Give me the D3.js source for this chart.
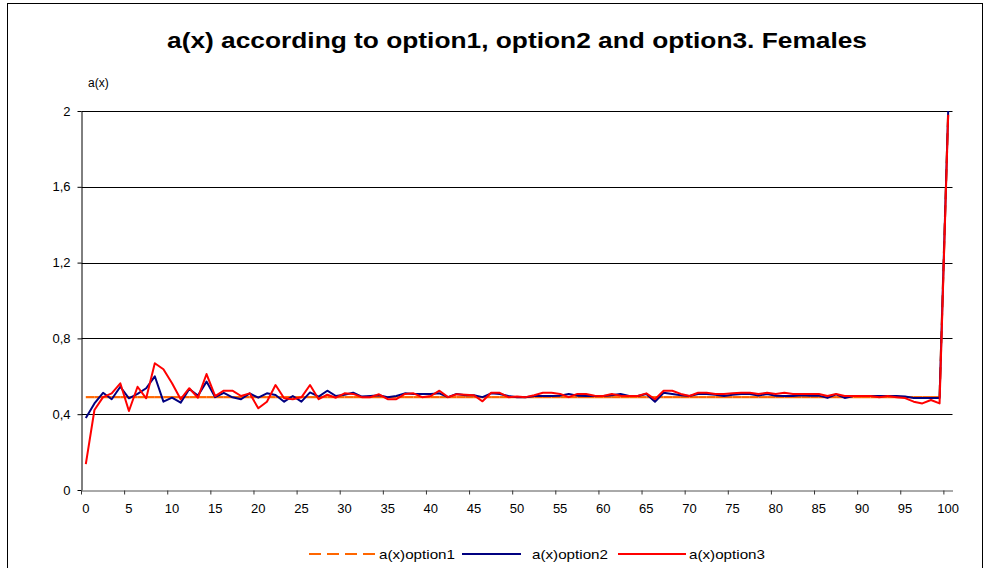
<!DOCTYPE html>
<html>
<head>
<meta charset="utf-8">
<script src="https://cdn.jsdelivr.net/npm/d3@7"></script>
<style>
  html, body { margin: 0; padding: 0; background: #fff; }
  svg { display: block; font-family: "Liberation Sans", Arial, Helvetica, sans-serif; }
</style>
</head>
<body>
<svg id="chart" width="990" height="568"></svg>
<script>
// Ages 0..100 on the category axis
const ages = d3.range(0, 101);

// Labelled ages on the x axis
const xTickAges = [0, 5, 10, 15, 20, 25, 30, 35, 40, 45, 50, 55, 60, 65, 70, 75, 80, 85, 90, 95, 100];

// y axis ticks and their labels (decimal comma)
const yTicks = [0, 0.4, 0.8, 1.2, 1.6, 2];
const yTickLabels = ["0", "0,4", "0,8", "1,2", "1,6", "2"];

// a(x), option 1
const option1 = [
  0.49, 0.49, 0.49, 0.49, 0.49, 0.49, 0.49, 0.49, 0.49, 0.49,
  0.49, 0.49, 0.49, 0.49, 0.49, 0.49, 0.49, 0.49, 0.49, 0.49,
  0.49, 0.49, 0.49, 0.49, 0.49, 0.49, 0.49, 0.49, 0.49, 0.49,
  0.49, 0.49, 0.49, 0.49, 0.49, 0.49, 0.49, 0.49, 0.49, 0.49,
  0.49, 0.49, 0.49, 0.49, 0.49, 0.49, 0.49, 0.49, 0.49, 0.49,
  0.49, 0.49, 0.49, 0.49, 0.49, 0.49, 0.49, 0.49, 0.49, 0.49,
  0.49, 0.49, 0.49, 0.49, 0.49, 0.49, 0.49, 0.49, 0.49, 0.49,
  0.49, 0.49, 0.49, 0.49, 0.49, 0.49, 0.49, 0.49, 0.49, 0.49,
  0.49, 0.49, 0.49, 0.49, 0.49, 0.49, 0.49, 0.49, 0.49, 0.49,
  0.49, 0.49, 0.49, 0.49, 0.49, 0.49, 0.49, 0.49, 0.49, 0.49,
  2.0
];

// a(x), option 2
const option2 = [
  0.380, 0.457, 0.513, 0.479, 0.545, 0.484, 0.507, 0.537, 0.600, 0.466,
  0.487, 0.461, 0.533, 0.498, 0.572, 0.490, 0.513, 0.489, 0.479, 0.510,
  0.487, 0.510, 0.501, 0.466, 0.496, 0.466, 0.515, 0.493, 0.524, 0.496,
  0.503, 0.513, 0.493, 0.496, 0.500, 0.490, 0.496, 0.510, 0.507, 0.507,
  0.507, 0.510, 0.490, 0.507, 0.500, 0.500, 0.490, 0.510, 0.507, 0.496,
  0.490, 0.490, 0.496, 0.496, 0.496, 0.498, 0.507, 0.498, 0.496, 0.496,
  0.496, 0.500, 0.507, 0.496, 0.496, 0.507, 0.466, 0.513, 0.507, 0.500,
  0.496, 0.507, 0.507, 0.503, 0.496, 0.503, 0.507, 0.507, 0.498, 0.507,
  0.497, 0.496, 0.496, 0.500, 0.497, 0.498, 0.486, 0.505, 0.486, 0.496,
  0.496, 0.496, 0.496, 0.496, 0.496, 0.493, 0.486, 0.486, 0.486, 0.486,
  2.0
];

// a(x), option 3
const option3 = [
  0.137, 0.422, 0.490, 0.510, 0.563, 0.417, 0.545, 0.484, 0.669, 0.637,
  0.563, 0.479, 0.537, 0.487, 0.612, 0.495, 0.524, 0.524, 0.496, 0.510,
  0.431, 0.466, 0.554, 0.484, 0.479, 0.489, 0.554, 0.479, 0.503, 0.487,
  0.510, 0.507, 0.490, 0.490, 0.505, 0.479, 0.479, 0.507, 0.510, 0.490,
  0.496, 0.524, 0.490, 0.505, 0.503, 0.500, 0.468, 0.513, 0.513, 0.490,
  0.493, 0.490, 0.500, 0.513, 0.513, 0.507, 0.490, 0.507, 0.507, 0.497,
  0.496, 0.507, 0.498, 0.496, 0.496, 0.510, 0.479, 0.524, 0.524, 0.507,
  0.496, 0.513, 0.513, 0.507, 0.507, 0.510, 0.513, 0.513, 0.507, 0.513,
  0.507, 0.513, 0.507, 0.507, 0.507, 0.507, 0.496, 0.507, 0.496, 0.496,
  0.496, 0.496, 0.490, 0.496, 0.490, 0.485, 0.466, 0.457, 0.475, 0.457,
  1.98
];

const seriesNames = ["a(x)option1", "a(x)option2", "a(x)option3"];
const seriesColors = ["#FF6600", "#000080", "#FF0000"];

const svg = d3.select("#chart");

// Outer frame
svg.append("rect")
  .attr("x", 7.5).attr("y", 3.5)
  .attr("width", 975).attr("height", 600)
  .attr("fill", "#fff").attr("stroke", "#000").attr("stroke-width", 1);

// Plot area
const plot = { left: 81.5, right: 952.5, top: 111, bottom: 490 };

const x = d3.scaleBand()
  .domain(ages)
  .range([plot.left, plot.right])
  .paddingInner(0).paddingOuter(0);
const bw = x.bandwidth();
const cx = a => x(a) + bw / 2;

const y = d3.scaleLinear()
  .domain([0, 2])
  .range([plot.bottom, plot.top]);

// Title
svg.append("text")
  .attr("x", (plot.left + plot.right) / 2)
  .attr("y", 48)
  .attr("text-anchor", "middle")
  .attr("font-weight", "bold")
  .attr("font-size", 22)
  .attr("textLength", 700)
  .attr("lengthAdjust", "spacingAndGlyphs")
  .text("a(x) according to option1, option2 and option3. Females");

// y axis caption
svg.append("text")
  .attr("x", 88).attr("y", 87)
  .attr("font-size", 12)
  .text("a(x)");

// Horizontal gridlines
svg.append("g")
  .selectAll("line")
  .data(yTicks.filter(d => d > 0))
  .join("line")
  .attr("x1", plot.left).attr("x2", plot.right)
  .attr("y1", d => Math.round(y(d)) + 0.5)
  .attr("y2", d => Math.round(y(d)) + 0.5)
  .attr("stroke", "#000").attr("stroke-width", 1);

// y axis
const yAxis = d3.axisLeft(y)
  .tickValues(yTicks)
  .tickFormat((d, i) => yTickLabels[i])
  .tickSize(4)
  .tickPadding(7)
  .tickSizeOuter(0);
const gy = svg.append("g")
  .attr("transform", `translate(${plot.left},0)`)
  .call(yAxis);
gy.select(".domain").attr("stroke", "#000");
gy.selectAll(".tick line").attr("stroke", "#000");
gy.selectAll(".tick text")
  .attr("font-family", "Liberation Sans, Arial, sans-serif")
  .attr("font-size", 13)
  .attr("fill", "#000");

// x axis: tick marks sit on category boundaries, labels on category centres
const xAxis = d3.axisBottom(x)
  .tickValues(xTickAges)
  .tickSize(4)
  .tickPadding(9)
  .tickSizeOuter(0);
const gx = svg.append("g")
  .attr("transform", `translate(0,${plot.bottom + 0.5})`)
  .call(xAxis);
gx.select(".domain").attr("stroke", "#555");
gx.selectAll(".tick line")
  .attr("x1", -bw / 2).attr("x2", -bw / 2)
  .attr("stroke", "#333");
gx.selectAll(".tick text")
  .attr("font-family", "Liberation Sans, Arial, sans-serif")
  .attr("font-size", 13)
  .attr("fill", "#000");

// Series lines
const line = d3.line()
  .x((d, i) => cx(ages[i]))
  .y(d => y(d));

// option 1: dashed, the dash pattern restarting on each segment
const g1 = svg.append("g");
g1.selectAll("path")
  .data(d3.pairs(option1.map((v, i) => [ages[i], v])))
  .join("path")
  .attr("d", ([p, q]) => `M${cx(p[0])},${y(p[1])}L${cx(q[0])},${y(q[1])}`)
  .attr("fill", "none")
  .attr("stroke", seriesColors[0])
  .attr("stroke-width", 2.2)
  .attr("stroke-dasharray", "12,6");

svg.append("path")
  .datum(option2)
  .attr("d", line)
  .attr("fill", "none")
  .attr("stroke", seriesColors[1])
  .attr("stroke-width", 2)
  .attr("stroke-linejoin", "round");

svg.append("path")
  .datum(option3)
  .attr("d", line)
  .attr("fill", "none")
  .attr("stroke", seriesColors[2])
  .attr("stroke-width", 2)
  .attr("stroke-linejoin", "round");

// Legend
const legendItems = [
  { name: seriesNames[0], color: seriesColors[0], x0: 309, x1: 376, tx: 379, dash: "12,6" },
  { name: seriesNames[1], color: seriesColors[1], x0: 462, x1: 521, tx: 532, dash: null },
  { name: seriesNames[2], color: seriesColors[2], x0: 618, x1: 686, tx: 689, dash: null }
];
const lg = svg.append("g").attr("transform", "translate(0,554)");
legendItems.forEach(it => {
  lg.append("line")
    .attr("x1", it.x0).attr("x2", it.x1)
    .attr("y1", 0).attr("y2", 0)
    .attr("stroke", it.color)
    .attr("stroke-width", 2)
    .attr("stroke-dasharray", it.dash);
  lg.append("text")
    .attr("x", it.tx).attr("y", 4.5)
    .attr("font-size", 13)
    .attr("textLength", 76)
    .attr("lengthAdjust", "spacingAndGlyphs")
    .text(it.name);
});
</script>
</body>
</html>
